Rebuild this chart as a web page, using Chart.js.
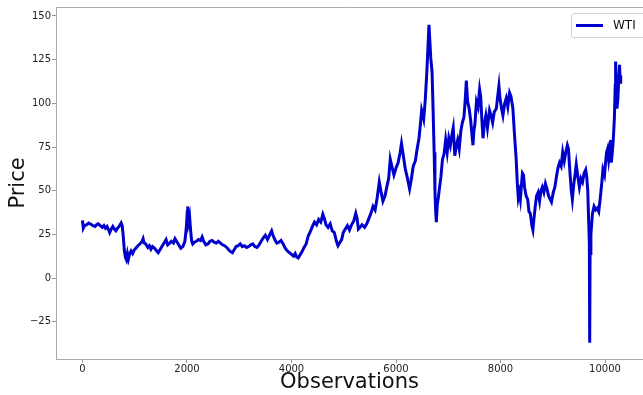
<!DOCTYPE html>
<html>
<head>
<meta charset="utf-8">
<script src="https://cdn.jsdelivr.net/npm/chart.js@4.4.1/dist/chart.umd.min.js"></script>
<style>
  html, body { margin: 0; padding: 0; background: #fff; }
  #wrap { position: relative; width: 643px; height: 395px; overflow: hidden; }
  #legend {
    position: absolute; left: 571px; top: 13px; width: 74px; height: 23px;
    border: 1px solid #d0d0d0; border-radius: 3px; background: rgba(255,255,255,0.8);
    font-family: "DejaVu Sans", sans-serif; font-size: 12px; color: #111;
  }
  #legend .swatch { position: absolute; left: 4px; top: 10px; width: 27px; height: 3px; background: #0000cd; }
  #legend .label { position: absolute; left: 41px; top: 4px; line-height: 14px; }
</style>
</head>
<body>
<div id="wrap">
  <canvas id="wtiChart" width="643" height="395"></canvas>
  <div id="legend"><span class="swatch"></span><span class="label">WTI</span></div>
</div>
<script>
// --- 데이터 ---
const seriesName = "WTI";

const observations = [
  0, 15, 40, 80, 120, 160, 200, 240, 270, 300,
  340, 380, 410, 440, 470, 500, 520, 550, 580, 610,
  640, 670, 700, 740, 760, 780, 800, 820, 840, 860,
  880, 900, 930, 960, 990, 1020, 1060, 1100, 1140, 1160,
  1180, 1210, 1250, 1280, 1310, 1340, 1380, 1420, 1450, 1480,
  1520, 1560, 1600, 1630, 1670, 1700, 1740, 1770, 1800, 1840,
  1880, 1920, 1960, 1990, 2005, 2015, 2030, 2050, 2070, 2090,
  2110, 2140, 2180, 2220, 2260, 2290, 2320, 2360, 2400, 2440,
  2480, 2520, 2560, 2600, 2640, 2680, 2720, 2760, 2800, 2840,
  2870, 2900, 2940, 2980, 3020, 3060, 3100, 3140, 3180, 3220,
  3260, 3300, 3340, 3380, 3420, 3460, 3500, 3540, 3580, 3620,
  3650, 3690, 3720, 3760, 3800, 3840, 3880, 3920, 3960, 4000,
  4040, 4070, 4100, 4130, 4160, 4200, 4240, 4280, 4320, 4360,
  4400, 4440, 4480, 4520, 4560, 4600, 4630, 4660, 4700, 4740,
  4780, 4820, 4860, 4890, 4920, 4960, 4990, 5030, 5070, 5110,
  5150, 5190, 5230, 5255, 5280, 5310, 5350, 5400, 5440, 5480,
  5520, 5560, 5600, 5640, 5680, 5710, 5750, 5790, 5830, 5860,
  5890, 5920, 5960, 6000, 6040, 6080, 6105, 6140, 6180, 6220,
  6260, 6290, 6330, 6370, 6400, 6440, 6470, 6490, 6530, 6560,
  6590, 6610, 6631, 6645, 6665, 6690, 6710, 6730, 6745, 6760,
  6772, 6790, 6810, 6830, 6860, 6890, 6920, 6950, 6980, 7010,
  7040, 7070, 7095, 7110, 7125, 7150, 7180, 7210, 7240, 7270,
  7300, 7325, 7346, 7370, 7400, 7430, 7460, 7473, 7490, 7510,
  7540, 7570, 7600, 7620, 7645, 7665, 7690, 7720, 7750, 7790,
  7820, 7850, 7880, 7920, 7950, 7970, 7990, 8020, 8046, 8080,
  8110, 8140, 8174, 8200, 8237, 8270, 8300, 8320, 8340, 8360,
  8380, 8400, 8420, 8440, 8460, 8490, 8520, 8545, 8570, 8600,
  8620, 8640, 8665, 8690, 8720, 8748, 8775, 8800, 8830, 8860,
  8890, 8920, 8950, 8975, 9010, 9040, 9070, 9100, 9130, 9160,
  9190, 9220, 9250, 9280, 9300, 9330, 9355, 9375, 9400, 9430,
  9450, 9480, 9510, 9540, 9570, 9600, 9630, 9650, 9670, 9690,
  9700, 9707, 9714, 9730, 9760, 9790, 9820, 9850, 9880, 9910,
  9940, 9960, 9990, 10010, 10030, 10050, 10070, 10090, 10110, 10120,
  10140, 10160, 10180, 10195, 10203, 10212, 10228, 10245, 10265, 10278,
  10290, 10300
];

const prices = [
  33, 28.5, 30, 30.5, 31.5, 30.8, 30, 29.5, 30.5, 31,
  30, 29, 30, 28.5, 29.5, 27.5, 26, 28, 29.5, 28,
  27, 28.5, 29.5, 31.5, 30, 24, 16, 12, 10.5, 14,
  11, 13.5, 15.5, 14, 16, 17, 18.5, 19.5, 21, 22.5,
  20, 19.5, 17.5, 18.5, 16.5, 18, 17, 15.5, 14.5, 16,
  18, 20, 22, 19, 20, 21, 20, 22.5, 21, 19,
  17, 18, 21, 30, 38, 41, 32, 35, 27, 21,
  19.5, 20.5, 21, 22, 21.5, 23.5, 21, 19, 19.5, 21,
  21.5, 20.5, 20, 21, 20, 19, 18.5, 17.5, 16, 15,
  14.5, 16, 18, 18.5, 19.5, 18, 18.5, 17.5, 18, 19,
  19.5, 18, 17.5, 19, 21, 23, 24.5, 22, 24.5, 27,
  24, 21.5, 20, 20.5, 21.5, 19.5, 17, 15.5, 14.5, 13.5,
  12.5, 14, 12, 11.5, 13, 15, 17.5, 19.5, 24, 26.5,
  29.5, 32, 30.5, 33.5, 32, 36.5, 34, 30.5, 29, 31,
  27, 26, 21, 18.5, 20, 22, 26, 28, 30, 27.5,
  30.5, 32.5, 37, 34, 28, 29, 30.5, 29, 31, 34,
  37, 41, 39, 46, 55, 50, 44, 47, 53, 57,
  68, 64, 59, 63, 66, 72, 77, 70, 62, 57,
  51, 56, 64, 67, 73, 80, 89, 96, 91, 102,
  118, 131, 145, 137, 126, 118, 96, 72, 50, 38,
  32, 42, 46, 51, 58, 68, 71, 79, 72, 80,
  76, 82, 86, 78, 70, 75, 79, 74, 84, 89,
  92, 102, 113, 101, 97, 90, 80, 76, 84, 88,
  101, 98, 108, 104, 90, 80, 88, 93, 86, 96,
  93, 89, 95, 97, 105, 110, 103, 97, 93, 100,
  103, 98, 106, 104, 97, 81, 68, 55, 46, 49,
  45, 53, 60, 59, 52, 47, 45, 38, 37, 30,
  27.5, 34, 41, 47, 49, 44, 50, 52, 49, 54,
  51, 47, 45, 43.5, 49, 52, 58, 63, 66, 64,
  72, 67, 72, 76, 74, 60, 50, 45, 53, 60,
  65, 58, 52, 57, 55, 60, 62, 58, 50, 30,
  20, -37, 14, 25, 37, 41, 39, 40, 38, 46,
  55, 62, 59, 66, 72, 74, 68, 73, 79, 66,
  72, 80, 92, 110, 124, 110, 97, 102, 115, 122,
  112, 116
];

const xTicks = [0, 2000, 4000, 6000, 8000, 10000];
const yTicks = [-25, 0, 25, 50, 75, 100, 125, 150];

// --- 헬퍼 ---
function formatTick(value) {
    return String(value).replace('-', '\u2212'); // matplotlib 스타일 마이너스
}

// 위쪽 테두리 (matplotlib 박스)
const topBorder = {
    id: 'topBorder',
    afterDraw(chart) {
        const { ctx, chartArea } = chart;
        ctx.save();
        ctx.strokeStyle = '#aaaaaa';
        ctx.lineWidth = 1;
        ctx.beginPath();
        ctx.moveTo(chartArea.left, chartArea.top + 0.5);
        ctx.lineTo(chartArea.right, chartArea.top + 0.5);
        ctx.stroke();
        ctx.restore();
    }
};

const tickFont = { family: 'DejaVu Sans', size: 10 };
const titleFont = { family: 'DejaVu Sans', size: 21 };

const ctx = document.getElementById('wtiChart').getContext('2d');
new Chart(ctx, {
    type: 'line',
    data: {
        datasets: [{
            label: seriesName,
            data: observations.map((o, i) => ({ x: o, y: prices[i] })),
            borderColor: '#0000cd',
            borderWidth: 3,
            pointRadius: 0,
            tension: 0,
            fill: false
        }]
    },
    options: {
        responsive: false,
        animation: false,
        layout: { padding: { top: 7, left: 0, right: 0, bottom: 0 } },
        plugins: {
            legend: { display: false },
            tooltip: { enabled: false }
        },
        scales: {
            x: {
                type: 'linear',
                min: -507,
                max: 10727,
                afterFit: scale => { scale.height = 36; },
                afterBuildTicks: scale => { scale.ticks = xTicks.map(v => ({ value: v })); },
                ticks: {
                    autoSkip: false,
                    font: tickFont,
                    color: '#222',
                    padding: 0,
                    maxRotation: 0,
                    callback: formatTick
                },
                grid: { drawOnChartArea: false, drawTicks: true, tickLength: 4, color: '#999' },
                border: { display: true, color: '#aaaaaa' },
                title: {
                    display: true,
                    text: 'Observations',
                    font: titleFont,
                    color: '#111',
                    padding: { top: 0, bottom: 0 }
                }
            },
            y: {
                type: 'linear',
                min: -46.37,
                max: 155.15,
                afterFit: scale => { scale.width = 56; },
                afterBuildTicks: scale => { scale.ticks = yTicks.map(v => ({ value: v })); },
                ticks: {
                    autoSkip: false,
                    font: tickFont,
                    color: '#222',
                    padding: 1,
                    callback: formatTick
                },
                grid: { drawOnChartArea: false, drawTicks: true, tickLength: 4, color: '#999' },
                border: { display: true, color: '#aaaaaa' },
                title: {
                    display: true,
                    text: 'Price',
                    font: titleFont,
                    color: '#111',
                    padding: { top: 6, bottom: 0 }
                }
            }
        }
    },
    plugins: [topBorder]
});
</script>
</body>
</html>
